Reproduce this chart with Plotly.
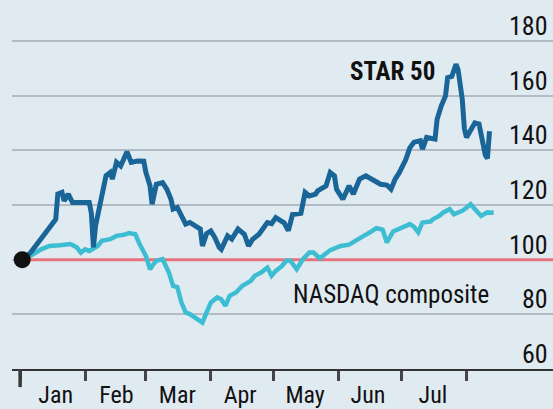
import pandas as pd
import plotly.graph_objects as go

# ---- data (days counted from 1 Jan 2020) ----
base_date = "2020-01-01"

star_days = [1, 5, 11, 15, 17, 18, 20, 21, 23, 25, 29, 33, 34, 35, 36, 39, 41, 43, 44, 46,
             48, 51, 53, 56, 59, 60, 62, 63, 65, 68, 70, 72, 73, 75, 77, 79, 81, 84, 86, 87,
             89, 91, 93, 95, 96, 99, 101, 104, 107, 109, 111, 114, 116, 118, 120, 122, 126, 128, 130, 134,
             136, 138, 141, 142, 146, 148, 150, 151, 154, 157, 159, 162, 165, 168, 172, 175, 177, 179, 181, 184,
             186, 188, 191, 192, 194, 198, 199, 201, 203, 204, 206, 208, 209, 211, 212, 213, 216, 217, 219, 220,
             222, 223, 224]
star_vals = [100, 102.6, 108.7, 112.4, 114.8, 124, 124.6, 121.5, 124, 120.9, 121, 120.9, 117, 104.5, 112.4, 123.3, 130.7, 131.9, 129.5, 135.6,
             134.3, 139.5, 135.6, 136.1, 136, 132, 127, 120.3, 127.6, 128.2, 125.8, 122.1, 118.5, 119.1, 116.2, 113, 113.6, 112.4, 111.2, 105,
             109.5, 110.5, 108, 104.5, 103.8, 108.7, 107.5, 111.2, 109.3, 105, 107.5, 109.3, 111.8, 113.6, 113.2, 115.4, 113.5, 110.6, 116.5, 117,
             124.6, 123.3, 124, 125.2, 127, 131.9, 130.7, 125.8, 122.1, 127, 124, 129.5, 130.7, 129.5, 127.6, 127.3, 125.8, 129.5, 131.9, 136.5,
             141, 143, 143.5, 140.4, 144.7, 144.1, 151.4, 156.3, 159.9, 166.6, 167, 171.5, 169.5, 158.7, 148, 144.7, 148.5, 150, 149.6, 145.3,
             138.3, 137, 147]

nasdaq_days = [1, 5, 10, 14, 19, 24, 27, 29, 31, 33, 37, 39, 43, 46, 49, 52, 55, 57, 60, 62,
               63, 65, 68, 71, 73, 75, 77, 79, 81, 83, 87, 89, 91, 94, 96, 98, 100, 103, 106, 110,
               112, 115, 118, 120, 122, 125, 127, 129, 132, 135, 138, 140, 143, 148, 153, 157, 161, 164, 167, 170,
               173, 175, 178, 181, 183, 186, 188, 190, 192, 196, 197, 200, 202, 205, 207, 211, 213, 215, 217, 220,
               223, 226]
nasdaq_vals = [100, 101.4, 103.8, 105, 105.3, 105.7, 104.5, 102.6, 103.8, 103.2, 105, 106.9, 107.5, 108.7, 109, 109.7, 109.3, 105.7, 101.4, 96.5,
               97.7, 99.6, 100.2, 95.3, 90.4, 90, 84.3, 80.7, 80.1, 78.9, 77, 80.7, 84.3, 86.2, 85.5, 83.1, 86.8, 88, 90.4, 92.2,
               94.1, 95.3, 97.1, 94.1, 95.9, 97.7, 99.6, 99.6, 96.5, 100.2, 102.6, 102.6, 100.5, 103.5, 105, 105.5, 107.5, 108.7, 110, 111.5,
               111, 106.3, 110.3, 111.2, 111.8, 113, 112, 110, 113.6, 114, 114.8, 116, 117.3, 118.5, 116.6, 117.9, 119, 120.3, 118.5, 116,
               117.3, 117.2]

reference_level = 100
y_ticks = [60, 80, 100, 120, 140, 160, 180]
y_tick_labels = ["60", "80", "100", "120", "140", "160", "180"]
month_labels = ["Jan", "Feb", "Mar", "Apr", "May", "Jun", "Jul"]
month_mid = ["2020-01-18", "2020-02-16", "2020-03-16", "2020-04-15", "2020-05-16", "2020-06-15", "2020-07-16"]
month_starts = ["2020-01-01", "2020-02-01", "2020-03-01", "2020-04-01", "2020-05-01",
                "2020-06-01", "2020-07-01", "2020-08-01"]

# ---- build ----
b = pd.Timestamp(base_date)
to_dates = lambda days: [b + pd.Timedelta(days=d) for d in days]
star_x = to_dates(star_days)
nas_x = to_dates(nasdaq_days)
x_lo = b + pd.Timedelta(days=-3.87)
x_hi = b + pd.Timedelta(days=254.3)

FONT = "Liberation Sans Narrow, Arial Narrow, Roboto Condensed, Roboto, sans-serif"
BG = "#e0eaf1"
DARK = "#1a6598"
CYAN = "#3dbdd1"

fig = go.Figure()
fig.add_trace(go.Scatter(x=[star_x[0], x_hi], y=[reference_level, reference_level], mode="lines",
                         line=dict(color="#e6737b", width=3), hoverinfo="skip", showlegend=False))
fig.add_trace(go.Scatter(x=nas_x, y=nasdaq_vals, mode="lines",
                         line=dict(color=CYAN, width=4.5), showlegend=False))
fig.add_trace(go.Scatter(x=star_x, y=star_vals, mode="lines",
                         line=dict(color=DARK, width=5), showlegend=False))
fig.add_trace(go.Scatter(x=[star_x[0]], y=[star_vals[0]], mode="markers",
                         marker=dict(color="#111111", size=17), showlegend=False))

fig.add_annotation(x=b + pd.Timedelta(days=199), y=169, text="<b>STAR 50</b>", showarrow=False,
                   xanchor="right", yanchor="middle", font=dict(family=FONT, size=25, color="#111111"))
fig.add_annotation(x=b + pd.Timedelta(days=224.5), y=87.4, text="NASDAQ composite", showarrow=False,
                   xanchor="right", yanchor="middle", font=dict(family=FONT, size=25, color="#111111"))

for v, t in zip(y_ticks, y_tick_labels):
    fig.add_annotation(xref="paper", x=1, y=v, text=t, showarrow=False,
                       xanchor="right", yanchor="bottom", xshift=-3, yshift=-2,
                       font=dict(family=FONT, size=26, color="#111111"))

# big start tick
fig.add_shape(type="line", xref="x", yref="paper", x0=month_starts[0], x1=month_starts[0],
              y0=0, y1=-0.049, line=dict(color="#3a3a3a", width=3.5))

fig.update_layout(
    width=553, height=409,
    margin=dict(l=12, r=0, t=0, b=40, autoexpand=False),
    paper_bgcolor=BG, plot_bgcolor=BG,
    font=dict(family=FONT, size=24, color="#111111"),
    xaxis=dict(
        type="date", range=[x_lo, x_hi], automargin=False,
        tickmode="array", tickvals=month_mid, ticktext=month_labels,
        ticks="outside", ticklen=3, tickcolor="rgba(0,0,0,0)",
        showgrid=False, zeroline=False,
        showline=True, linecolor="#333333", linewidth=2,
        tickfont=dict(size=24),
        minor=dict(tickmode="array", tickvals=month_starts, ticks="outside",
                   ticklen=10, tickwidth=2.5, tickcolor="#444444", showgrid=False),
    ),
    yaxis=dict(
        range=[60, 195], automargin=False,
        tickmode="array", tickvals=y_ticks, showticklabels=False, ticks="",
        showgrid=True, gridcolor="#b3bcc4", gridwidth=2,
        zeroline=False, showline=False,
    ),
)

fig.write_html(
    "out.html",
    config={"displayModeBar": False},
    post_script="document.body.style.margin='0';document.body.style.padding='0';"
                "document.body.style.background='" + BG + "';",
)
